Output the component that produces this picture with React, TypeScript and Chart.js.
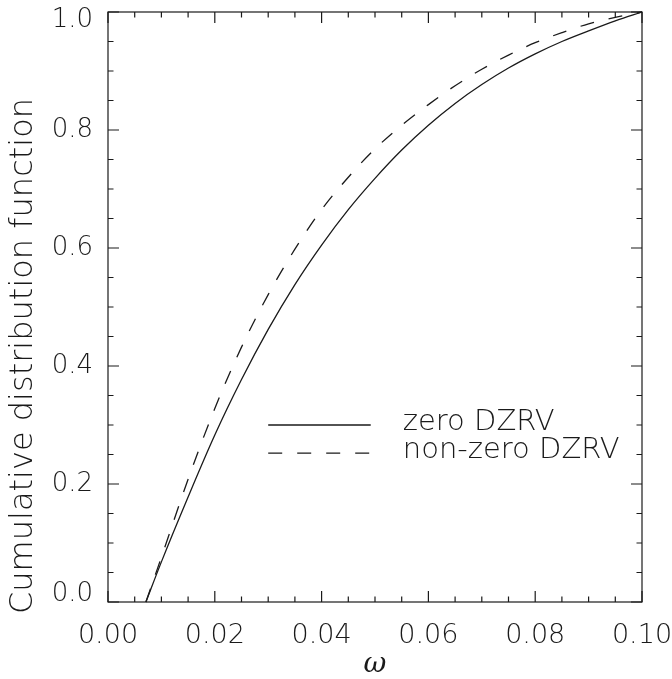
import React, { useEffect, useRef } from "react";
import { Chart, registerables } from "chart.js";

Chart.register(...registerables);

// Grid of omega values and the two cumulative distribution curves
const omega = [
  0.0071, 0.01, 0.015, 0.02, 0.025, 0.03, 0.035, 0.04, 0.045, 0.05,
  0.055, 0.06, 0.065, 0.07, 0.075, 0.08, 0.085, 0.09, 0.095, 0.1,
];
const cdfZeroDZRV = [
  0, 0.068, 0.178, 0.283, 0.377, 0.462, 0.538, 0.605, 0.665, 0.718,
  0.766, 0.808, 0.845, 0.877, 0.905, 0.929, 0.95, 0.968, 0.985, 1.0,
];
const cdfNonZeroDZRV = [
  0, 0.076, 0.208, 0.328, 0.432, 0.521, 0.598, 0.665, 0.72, 0.768,
  0.808, 0.843, 0.875, 0.903, 0.927, 0.948, 0.965, 0.98, 0.991, 1.0,
];

const xTickValues = [0, 0.02, 0.04, 0.06, 0.08, 0.1];
const yTickValues = [0, 0.2, 0.4, 0.6, 0.8, 1.0];
const xMinorStep = 0.005;
const yMinorStep = 0.05;
const seriesLabels = ["zero DZRV", "non-zero DZRV"];
const xTitle = "ω";
const yTitle = "Cumulative distribution function";

const FONT = "'DejaVu Sans', 'Liberation Sans', sans-serif";
const INK = "#1a1a1a";

// Boxed frame with inward ticks on all four sides, legend and rotated y title
const framePlugin = {
  id: "boxFrame",
  afterDatasetsDraw(chart: any) {
    const { ctx, chartArea: a, scales } = chart;
    const xs = scales.x;
    const ys = scales.y;
    ctx.save();
    ctx.strokeStyle = INK;
    ctx.lineWidth = 1.2;
    ctx.setLineDash([]);
    ctx.strokeRect(a.left, a.top, a.right - a.left, a.bottom - a.top);

    ctx.beginPath();
    const nx = Math.round((xs.max - xs.min) / xMinorStep);
    for (let i = 0; i <= nx; i++) {
      const px = xs.getPixelForValue(xs.min + i * xMinorStep);
      const len = i % 4 === 0 ? 11 : 5.5;
      ctx.moveTo(px, a.bottom);
      ctx.lineTo(px, a.bottom - len);
      ctx.moveTo(px, a.top);
      ctx.lineTo(px, a.top + len);
    }
    const ny = Math.round((ys.max - ys.min) / yMinorStep);
    for (let i = 0; i <= ny; i++) {
      const py = ys.getPixelForValue(ys.min + i * yMinorStep);
      const len = i % 4 === 0 ? 11 : 5.5;
      ctx.moveTo(a.left, py);
      ctx.lineTo(a.left + len, py);
      ctx.moveTo(a.right, py);
      ctx.lineTo(a.right - len, py);
    }
    ctx.stroke();

    // legend: line samples and labels inside the plot
    const lineX0 = xs.getPixelForValue(0.03);
    const lineX1 = xs.getPixelForValue(0.0492);
    const textX = xs.getPixelForValue(0.0552);
    const rows = [0.3, 0.2525];
    chart.data.datasets.forEach((ds: any, i: number) => {
      const py = ys.getPixelForValue(rows[i]);
      ctx.save();
      ctx.strokeStyle = ds.borderColor;
      ctx.lineWidth = ds.borderWidth;
      ctx.setLineDash(ds.borderDash || []);
      ctx.beginPath();
      ctx.moveTo(lineX0, py);
      ctx.lineTo(lineX1, py);
      ctx.stroke();
      ctx.restore();
      ctx.fillStyle = INK;
      ctx.font = `200 29px ${FONT}`;
      ctx.textAlign = "left";
      ctx.textBaseline = "alphabetic";
      ctx.fillText(ds.label, textX, py + 5);
    });

    // y axis title
    ctx.save();
    ctx.translate(32, 356);
    ctx.rotate(-Math.PI / 2);
    ctx.fillStyle = INK;
    ctx.font = `200 32px ${FONT}`;
    ctx.textAlign = "center";
    ctx.textBaseline = "alphabetic";
    ctx.fillText(yTitle, 0, 0);
    ctx.restore();

    ctx.restore();
  },
};

export default function App() {
  const canvasRef = useRef<HTMLCanvasElement | null>(null);

  useEffect(() => {
    if (!canvasRef.current) return;
    const toPoints = (ys: number[]) => omega.map((x, i) => ({ x, y: ys[i] }));
    const chart = new Chart(canvasRef.current, {
      type: "line",
      data: {
        datasets: [
          {
            label: seriesLabels[0],
            data: toPoints(cdfZeroDZRV),
            borderColor: INK,
            borderWidth: 1.3,
            pointRadius: 0,
            fill: false,
            cubicInterpolationMode: "monotone",
            clip: 4,
          },
          {
            label: seriesLabels[1],
            data: toPoints(cdfNonZeroDZRV),
            borderColor: INK,
            borderWidth: 1.3,
            borderDash: [14, 15],
            pointRadius: 0,
            fill: false,
            cubicInterpolationMode: "monotone",
            clip: 4,
          },
        ],
      },
      options: {
        animation: false,
        responsive: true,
        maintainAspectRatio: false,
        layout: { padding: { left: 0, right: 30, top: 12, bottom: 0 } },
        plugins: {
          legend: { display: false },
          tooltip: { enabled: false },
        },
        scales: {
          x: {
            type: "linear",
            min: 0,
            max: 0.1,
            afterBuildTicks: (s: any) => {
              s.ticks = xTickValues.map((value) => ({ value }));
            },
            afterFit: (s: any) => {
              s.height = 77;
              s.paddingLeft = 0;
              s.paddingRight = 0;
            },
            grid: { display: false, drawTicks: false },
            border: { display: false },
            ticks: {
              color: INK,
              font: { family: FONT, size: 27, weight: "200" },
              padding: 18,
              maxRotation: 0,
              autoSkip: false,
              callback: (v: any) => Number(v).toFixed(2),
            },
            title: {
              display: true,
              text: xTitle,
              color: INK,
              font: { family: "'DejaVu Serif', serif", size: 28, style: "italic", lineHeight: 1 },
              padding: 0,
            },
          },
          y: {
            type: "linear",
            min: 0,
            max: 1,
            afterBuildTicks: (s: any) => {
              s.ticks = yTickValues.map((value) => ({ value }));
            },
            afterFit: (s: any) => {
              s.width = 108;
              s.paddingTop = 0;
              s.paddingBottom = 0;
            },
            grid: { display: false, drawTicks: false },
            border: { display: false },
            ticks: {
              color: INK,
              font: { family: FONT, size: 26, weight: "200", lineHeight: "16px" },
              padding: 15,
              autoSkip: false,
              // end labels are nudged inside the frame via an empty extra line
              callback: (v: any) => {
                const t = Number(v).toFixed(1);
                if (Number(v) >= 1) return ["", t];
                if (Number(v) <= 0) return [t, ""];
                return t;
              },
            },
          },
        },
      },
      plugins: [framePlugin],
    });
    return () => chart.destroy();
  }, []);

  return (
    <div style={{ position: "absolute", left: 0, top: 0, width: 672, height: 679, background: "#fff" }}>
      <canvas ref={canvasRef} />
    </div>
  );
}
